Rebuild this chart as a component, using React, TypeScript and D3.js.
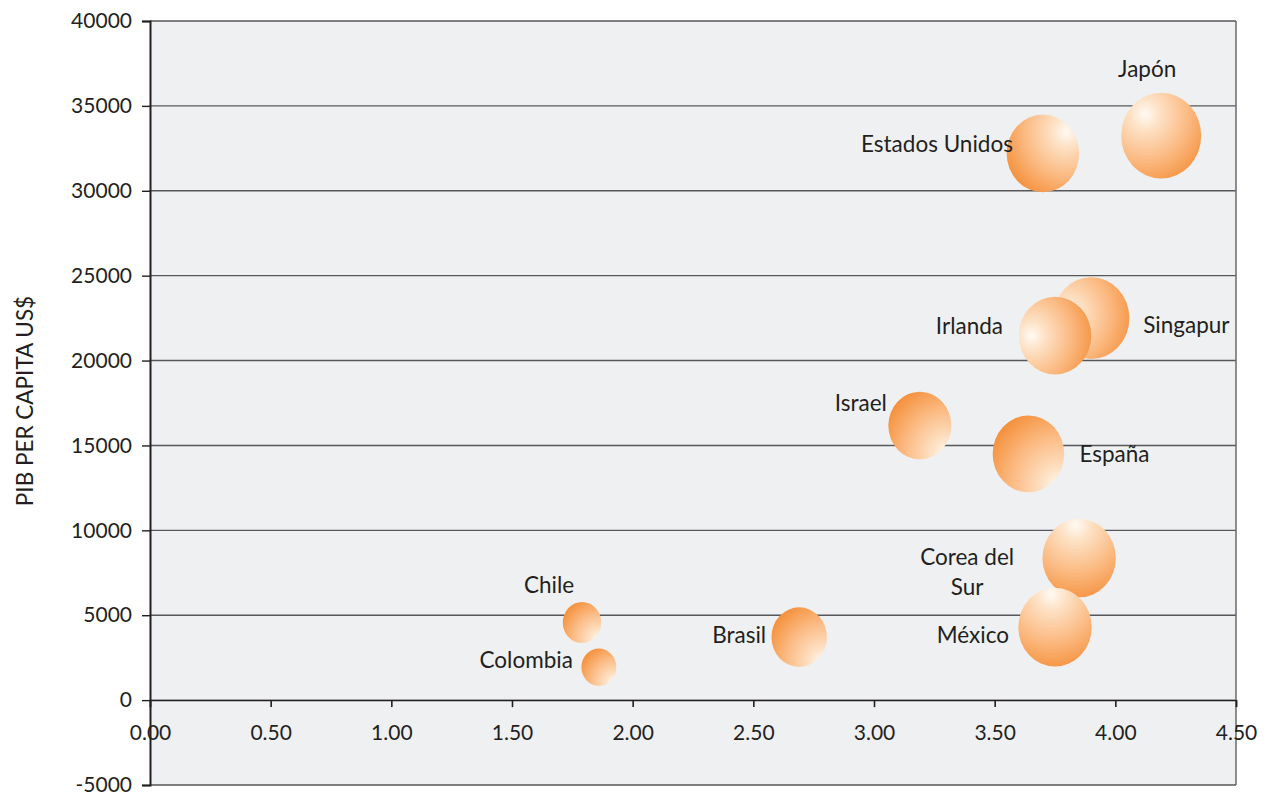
import React, { useEffect, useRef } from 'react';
import * as d3 from 'd3';

// Country values: x indicator, GDP per capita (US$) and bubble size
const countries = [
  'Japón', 'Estados Unidos', 'Singapur', 'Irlanda', 'Israel', 'España',
  'Corea del Sur', 'México', 'Chile', 'Colombia', 'Brasil',
];
const xValues = [4.19, 3.70, 3.90, 3.75, 3.19, 3.64, 3.85, 3.75, 1.79, 1.86, 2.69];
const pibPerCapita = [33250, 32200, 22500, 21470, 16170, 14500, 8370, 4300, 4570, 1940, 3710];
const bubbleSizes = [100, 82, 91, 82, 62, 80, 84, 84, 23, 19, 48];

const yTicks = [-5000, 0, 5000, 10000, 15000, 20000, 25000, 30000, 35000, 40000];
const xTicks = [0, 0.5, 1, 1.5, 2, 2.5, 3, 3.5, 4, 4.5];
const yAxisTitle = 'PIB PER CAPITA US$';

// Label placement relative to each bubble centre
const labelLayout: Record<string, { dx: number; dy: number; anchor: string; lines?: string[] }> = {
  'Japón': { dx: -14, dy: -59, anchor: 'middle' },
  'Estados Unidos': { dx: -30, dy: -1, anchor: 'end' },
  'Singapur': { dx: 52, dy: 15, anchor: 'start' },
  'Irlanda': { dx: -52, dy: -2, anchor: 'end' },
  'Israel': { dx: -33, dy: -15, anchor: 'end' },
  'España': { dx: 51, dy: 8, anchor: 'start' },
  'Corea del Sur': { dx: -112, dy: 7, anchor: 'middle', lines: ['Corea del', 'Sur'] },
  'México': { dx: -46, dy: 16, anchor: 'end' },
  'Chile': { dx: -33, dy: -30, anchor: 'middle' },
  'Colombia': { dx: -26, dy: 1, anchor: 'end' },
  'Brasil': { dx: -33, dy: 6, anchor: 'end' },
};

// Where the light spot of each sphere sits (bounding-box units)
const shading: Record<string, { fx: number; fy: number; r: number }> = {
  'Japón': { fx: 0.3, fy: 0.25, r: 0.9 },
  'Estados Unidos': { fx: 0.82, fy: 0.22, r: 0.95 },
  'Singapur': { fx: 0.2, fy: 0.45, r: 0.9 },
  'Irlanda': { fx: 0.18, fy: 0.5, r: 0.9 },
  'Israel': { fx: 0.92, fy: 0.92, r: 1.1 },
  'España': { fx: 0.92, fy: 0.92, r: 1.1 },
  'Corea del Sur': { fx: 0.45, fy: 0.08, r: 1.0 },
  'México': { fx: 0.45, fy: 0.08, r: 1.0 },
  'Chile': { fx: 0.92, fy: 0.92, r: 1.1 },
  'Colombia': { fx: 0.92, fy: 0.92, r: 1.1 },
  'Brasil': { fx: 0.92, fy: 0.92, r: 1.1 },
};

const W = 1268;
const H = 795;
const margin = { top: 21, right: 32, bottom: 10, left: 150 };
const FONT = 'Lato, "Open Sans", sans-serif';
const LABEL_SIZE = 22.5;
const TICK_SIZE = 21;

export default function App() {
  const ref = useRef<SVGSVGElement>(null);

  useEffect(() => {
    const svg = d3.select(ref.current);
    svg.selectAll('*').remove();

    const x = d3.scaleLinear().domain([0, 4.5]).range([margin.left, W - margin.right]);
    const y = d3.scaleLinear().domain([-5000, 40000]).range([H - margin.bottom, margin.top]);
    const r = d3.scaleSqrt().domain([0, d3.max(bubbleSizes) as number]).range([0, 41.5]);

    const defs = svg.append('defs');
    countries.forEach((c, i) => {
      const s = shading[c];
      const g = defs.append('radialGradient')
        .attr('id', `sph-${i}`)
        .attr('cx', s.fx).attr('cy', s.fy)
        .attr('fx', s.fx).attr('fy', s.fy)
        .attr('r', s.r);
      g.append('stop').attr('offset', 0).attr('stop-color', '#fffaf4');
      g.append('stop').attr('offset', 0.2).attr('stop-color', '#fde2c6');
      g.append('stop').attr('offset', 0.6).attr('stop-color', '#fbba82');
      g.append('stop').attr('offset', 1).attr('stop-color', '#f48f3a');
    });

    // plot background
    svg.append('rect')
      .attr('x', margin.left).attr('y', margin.top)
      .attr('width', W - margin.left - margin.right)
      .attr('height', H - margin.top - margin.bottom)
      .attr('fill', '#eff0f2');

    // horizontal grid lines
    svg.append('g').selectAll('line').data(yTicks).join('line')
      .attr('x1', margin.left).attr('x2', W - margin.right)
      .attr('y1', (d) => y(d)).attr('y2', (d) => y(d))
      .attr('stroke', '#57575a').attr('stroke-width', 1.4);

    // right border
    svg.append('line')
      .attr('x1', W - margin.right).attr('x2', W - margin.right)
      .attr('y1', margin.top).attr('y2', H - margin.bottom)
      .attr('stroke', '#6a6a6d').attr('stroke-width', 1.5);

    // y axis
    const yAxis = d3.axisLeft(y).tickValues(yTicks).tickSize(8).tickPadding(10)
      .tickFormat((d) => String(d));
    const yg = svg.append('g').attr('transform', `translate(${margin.left},0)`).call(yAxis);
    yg.select('.domain').attr('stroke', '#231f20').attr('stroke-width', 2);
    yg.selectAll('.tick line').attr('stroke', '#231f20').attr('stroke-width', 1.4);
    yg.selectAll('.tick text')
      .attr('font-family', FONT).attr('font-size', TICK_SIZE).attr('fill', '#231f20');

    // x axis on the zero line
    const xAxis = d3.axisBottom(x).tickValues(xTicks).tickSize(7).tickPadding(18)
      .tickFormat((d) => d3.format('.2f')(d as number));
    const xg = svg.append('g').attr('transform', `translate(0,${y(0)})`).call(xAxis);
    xg.select('.domain').attr('stroke', '#231f20').attr('stroke-width', 1.4);
    xg.selectAll('.tick line').attr('stroke', '#231f20').attr('stroke-width', 1.6);
    xg.selectAll('.tick text')
      .attr('font-family', FONT).attr('font-size', TICK_SIZE).attr('fill', '#231f20');

    // bubbles
    const bubbles = svg.append('g');
    countries.forEach((c, i) => {
      const rr = r(bubbleSizes[i]);
      bubbles.append('ellipse')
        .attr('cx', x(xValues[i])).attr('cy', y(pibPerCapita[i]))
        .attr('rx', rr * 0.965).attr('ry', rr * 1.035)
        .attr('fill', `url(#sph-${i})`);
    });

    // labels
    const labels = svg.append('g')
      .attr('font-family', FONT).attr('font-size', LABEL_SIZE).attr('fill', '#231f20');
    countries.forEach((c, i) => {
      const L = labelLayout[c];
      const lines = L.lines ?? [c];
      const t = labels.append('text')
        .attr('text-anchor', L.anchor)
        .attr('x', x(xValues[i]) + L.dx)
        .attr('y', y(pibPerCapita[i]) + L.dy);
      lines.forEach((ln, k) => {
        t.append('tspan')
          .attr('x', x(xValues[i]) + L.dx)
          .attr('dy', k === 0 ? 0 : 30)
          .text(ln);
      });
    });

    // y axis title
    svg.append('text')
      .attr('transform', `translate(33,401) rotate(-90)`)
      .attr('text-anchor', 'middle')
      .attr('font-family', FONT).attr('font-size', LABEL_SIZE).attr('fill', '#231f20')
      .text(yAxisTitle);
  }, []);

  return (
    <svg
      ref={ref}
      width={W}
      height={H}
      style={{ position: 'absolute', left: 0, top: 0, display: 'block', background: '#ffffff' }}
    />
  );
}
